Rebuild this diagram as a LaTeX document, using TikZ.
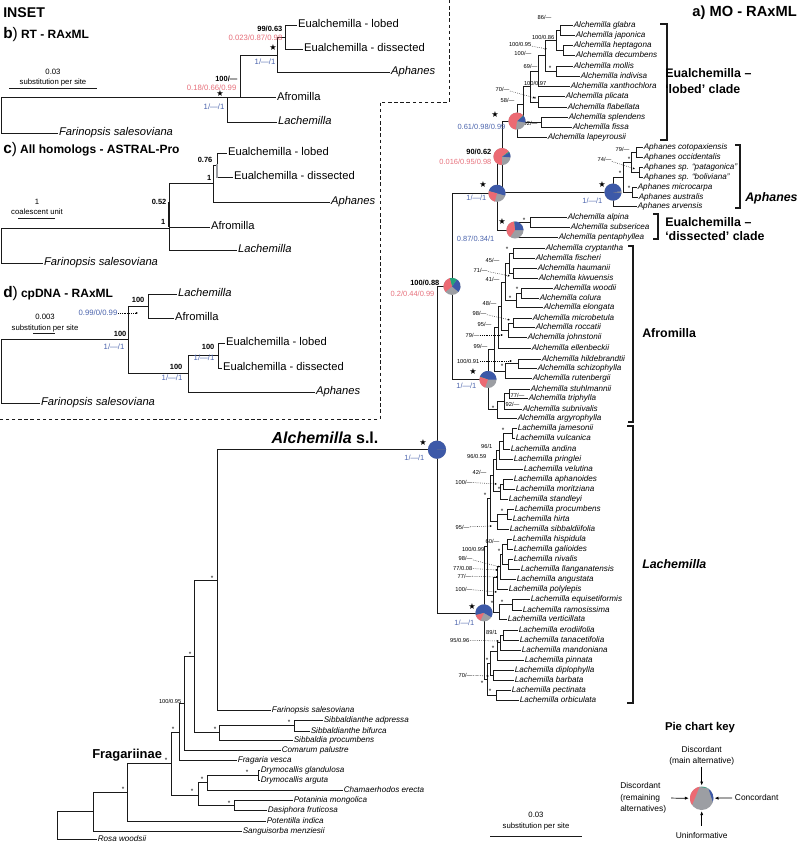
\documentclass[tikz,border=0pt]{standalone}
\usepackage{fontspec}
\setmainfont{Liberation Sans}
\newfontfamily\symfont{DejaVu Sans}
\usetikzlibrary{arrows.meta}
\definecolor{ink}{HTML}{1A1A1A}
\definecolor{cblue}{HTML}{3D59A8}
\definecolor{cred}{HTML}{EC6A73}
\definecolor{cgrey}{HTML}{9C9EA3}
\definecolor{cgreen}{HTML}{23A37B}
\definecolor{tred}{HTML}{E6707B}
\definecolor{tblue}{HTML}{4A63AC}
\newcommand{\fsz}[1]{\fontsize{#1}{#1}\selectfont}
\newcommand{\piechart}[6]{%
  \fill[cgrey] (#1) circle[radius=#2];
  \fill[cblue] (#1) -- +(#3:#2) arc[start angle=#3,end angle=#4,radius=#2] -- cycle;
  \fill[cgreen] (#1) -- +(#4:#2) arc[start angle=#4,end angle=#5,radius=#2] -- cycle;
  \fill[cred] (#1) -- +(#5:#2) arc[start angle=#5,end angle=#6,radius=#2] -- cycle;}
\begin{document}
\begin{tikzpicture}[x=0.75pt,y=-0.75pt,>=Latex,
 br/.style={draw=ink,line width=0.55pt},
 ibr/.style={draw=ink,line width=0.65pt},
 tip/.style={anchor=west,inner sep=0.4pt,font=\fsz{6.1}\itshape,text height=4.4pt,text depth=1.3pt},
 itip/.style={anchor=west,inner sep=0.6pt,font=\fsz{8.4},text height=6pt,text depth=1.7pt},
 sup/.style={anchor=east,inner sep=0.3pt,font=\fsz{4.3}},
 ast/.style={inner sep=0pt,font=\fsz{4.8}},
 pl/.style={anchor=east,inner sep=0.3pt,font=\fsz{5.6}},
 isup/.style={anchor=east,inner sep=0.3pt,font=\fsz{5.8}},
 pstar/.style={inner sep=0pt,font=\fsz{6.2}\symfont},
 dotarr/.style={->,densely dotted,line width=0.4pt,>={Latex[length=1.6pt,width=1.6pt]}},
 clade/.style={anchor=west,inner sep=0pt,font=\fsz{9.3}\bfseries},
 brk/.style={draw=ink,line width=0.9pt},
 paneltitle/.style={anchor=west,inner sep=0pt,font=\fsz{9}\bfseries},
 sc/.style={inner sep=0.3pt,font=\fsz{5.8}},
 keytxt/.style={inner sep=0.5pt,font=\fontsize{6.3}{8.6}\selectfont,align=center},
 karr/.style={->,line width=0.55pt,>={Latex[length=3pt,width=2.4pt]}}]
\useasboundingbox (0,0) rectangle (798,844);

\draw[ink,line width=0.5pt,dash pattern=on 2.6pt off 2pt] (449,0) -- (449,102) -- (380,102) -- (380,419) -- (0,419);

\node[paneltitle,font=\fsz{10.6}\bfseries] (inset) at (3,13) {INSET};
\node[paneltitle] (hb) at (3,35) {{\fsz{11.5}b}{\fsz{11.5}\mdseries)} RT - RAxML};
\node[paneltitle] (hc) at (3,150) {{\fsz{11.5}c}{\fsz{11.5}\mdseries)} All homologs - ASTRAL-Pro};
\node[paneltitle] (hd) at (3,294) {{\fsz{11.5}d}{\fsz{11.5}\mdseries)} cpDNA - RAxML};
\node[anchor=east,inner sep=0pt,font=\fsz{11}\bfseries] (ha) at (797,13) {a) MO - RAxML};

% insets b, c, d
\foreach \n/\x/\y/\t in {blob/297/25/{Eualchemilla - lobed},bdis/303/49/{Eualchemilla - dissected},bafr/276/97.5/{Afromilla},
  clob/227/153/{Eualchemilla - lobed},cdis/233/177/{Eualchemilla - dissected},cafr/210/227/{Afromilla},
  dlob/225/343/{Eualchemilla - lobed},ddis/222/368/{Eualchemilla - dissected},dafr/174/318/{Afromilla}}
  \node[itip] (\n) at (\x,\y) {\t};
\foreach \n/\x/\y/\t in {baph/390/72/{Aphanes},blac/277/122/{Lachemilla},bfar/58/133/{Farinopsis salesoviana},
  caph/330/202/{Aphanes},clac/237/250/{Lachemilla},cfar/43/263/{Farinopsis salesoviana},
  dlac/177/294/{Lachemilla},daph/315/392/{Aphanes},dfar/40/403/{Farinopsis salesoviana}}
  \node[itip,font=\fsz{8.4}\itshape] (\n) at (\x,\y) {\t};
\foreach \n/\x/\y in {b0/1/97.5,b1/227/97.5,b2/240/97.5,b3/277/55,b4/285/37,
  c0/1/228,c1/169/228,c2/213/183.5,c3/217/165,
  d0/1/339.5,d1/128/339.5,d2/148/306,d3/188/373.5,d4/218/355.5}
  \coordinate (\n) at (\x,\y);
\foreach \p/\c in {b0/bfar,b0/b1,b1/b2,b1/blac,b2/b3,b2/bafr,b3/b4,b3/baph,b4/blob,b4/bdis,
  c0/cfar,c0/c1,c1/c2,c1/cafr,c1/clac,c2/c3,c2/caph,c3/clob,c3/cdis,
  d0/dfar,d0/d1,d1/d2,d1/d3,d2/dlac,d2/dafr,d3/d4,d3/daph,d4/dlob,d4/ddis}
  \draw[ibr] (\p) |- (\c);
\draw[ink,line width=1.7pt] (169,202) -- (169,227);
\fill[cgrey] (215.6,164) rectangle (218.4,178);

\node[isup,font=\fsz{5.6}\bfseries] (bs1) at (283,29) {99/0.63};
\node[isup,text=tred] (bs2) at (283,38) {0.023/0.87/0.98};
\node[isup,text=tblue] (bs3) at (276,62) {1/—/1};
\node[pstar] (bst1) at (273,48) {★};
\node[isup,font=\fsz{5.6}\bfseries] (bs4) at (238,78.5) {100/—};
\node[isup,text=tred] (bs5) at (237,87.5) {0.18/0.66/0.99};
\node[pstar] (bst2) at (220,94) {★};
\node[isup,text=tblue] (bs6) at (225,107) {1/—/1};
\node[isup,font=\fsz{5.6}\bfseries] (cs1) at (213,160) {0.76};
\node[isup,font=\fsz{5.6}\bfseries] (cs2) at (212,178) {1};
\node[isup,font=\fsz{5.6}\bfseries] (cs3) at (167,202) {0.52};
\node[isup,font=\fsz{5.6}\bfseries] (cs4) at (166,222) {1};
\node[isup,font=\fsz{5.6}\bfseries] (ds1) at (145,300) {100};
\node[isup,text=tblue] (ds2) at (118,313) {0.99/0/0.99};
\coordinate (dq) at (138,313);
\draw[dotarr] (ds2) -- (dq);
\node[isup,font=\fsz{5.6}\bfseries] (ds3) at (127,334) {100};
\node[isup,text=tblue] (ds4) at (125,347) {1/—/1};
\node[isup,font=\fsz{5.6}\bfseries] (ds5) at (183,367) {100};
\node[isup,text=tblue] (ds6) at (183,378) {1/—/1};
\node[isup,font=\fsz{5.6}\bfseries] (ds7) at (215,347) {100};
\node[isup,text=tblue] (ds8) at (215,358) {1/—/1};

\node[sc] (bsa) at (53,72) {0.03};
\node[sc] (bsb) at (53,82) {substitution per site};
\draw[ibr] (9,88) -- (97,88);
\node[sc] (csa) at (37,202) {1};
\node[sc] (csb) at (37,212) {coalescent unit};
\draw[ibr] (18,218) -- (55,218);
\node[sc] (dsa) at (45,317) {0.003};
\node[sc] (dsb) at (45,328) {substitution per site};
\draw[ibr] (33,333) -- (55,333);

% main tree
\foreach \n/\x/\y/\t in {gla/573/25/{Alchemilla glabra},jap/575/35.3/{Alchemilla japonica},hep/573/45.5/{Alchemilla heptagona},
  dec/575/55.8/{Alchemilla decumbens},mol/573/66/{Alchemilla mollis},ind/580/76.3/{Alchemilla indivisa},
  xan/570/86.5/{Alchemilla xanthochlora},pli/565/96.8/{Alchemilla plicata},fla/567/107/{Alchemilla flabellata},
  spl/568/117.3/{Alchemilla splendens},fis/572/127.5/{Alchemilla fissa},lap/547/137.8/{Alchemilla lapeyrousii},
  cot/643/147.7/{Aphanes cotopaxiensis},occ/643/157.7/{Aphanes occidentalis},pat/643/167.7/{Aphanes sp. “patagonica”},
  bol/643/177.3/{Aphanes sp. “boliviana”},mic/637/187.3/{Aphanes microcarpa},aus/638/197.3/{Aphanes australis},
  arv/637/206.7/{Aphanes arvensis},alp/567/217.7/{Alchemilla alpina},sbs/570/227.7/{Alchemilla subsericea},
  pen/558/237.3/{Alchemilla pentaphyllea},cry/545/248.3/{Alchemilla cryptantha},fsc/535/258.3/{Alchemilla fischeri},
  hau/537/268.3/{Alchemilla haumanii},kiw/538/278.3/{Alchemilla kiwuensis},woo/553/288.3/{Alchemilla woodii},
  col/539/298.3/{Alchemilla colura},elo/543/307.7/{Alchemilla elongata},mcb/532/318.3/{Alchemilla microbetula},
  roc/535/327.7/{Alchemilla roccatii},joh/527/337.7/{Alchemilla johnstonii},ell/531/348.3/{Alchemilla ellenbeckii},
  hil/541/359/{Alchemilla hildebrandtii},sch/537/368.3/{Alchemilla schizophylla},rut/532/378.3/{Alchemilla rutenbergii},
  stu/530/389/{Alchemilla stuhlmannii},tri/528/398.3/{Alchemilla triphylla},sbn/522/409/{Alchemilla subnivalis},
  arg/517/418.3/{Alchemilla argyrophylla},jam/517/428.3/{Lachemilla jamesonii},vul/515/438.3/{Lachemilla vulcanica},
  lan/510/449/{Lachemilla andina},pri/513/459/{Lachemilla pringlei},vel/523/469.3/{Lachemilla velutina},
  aph/513/479/{Lachemilla aphanoides},mor/515/489.3/{Lachemilla moritziana},sta/508/499.3/{Lachemilla standleyi},
  pro/514/509/{Lachemilla procumbens},hir/512/519.3/{Lachemilla hirta},sib/509/529.3/{Lachemilla sibbaldiifolia},
  his/512/539/{Lachemilla hispidula},gal/513/549/{Lachemilla galioides},niv/513/559.3/{Lachemilla nivalis},
  lla/520/569/{Lachemilla llanganatensis},ang/516/579/{Lachemilla angustata},pol/508/589/{Lachemilla polylepis},
  equ/530/599.3/{Lachemilla equisetiformis},ram/522/610/{Lachemilla ramosissima},ver/507/619.3/{Lachemilla verticillata},
  ero/518/630/{Lachemilla erodiifolia},tan/519/640/{Lachemilla tanacetifolia},man/521/650/{Lachemilla mandoniana},
  pin/524/660/{Lachemilla pinnata},dip/514/670/{Lachemilla diplophylla},bar/514/680/{Lachemilla barbata},
  pec/511/690/{Lachemilla pectinata},orb/519/700/{Lachemilla orbiculata},
  far/271/710.7/{Farinopsis salesoviana},sad/323/720/{Sibbaldianthe adpressa},sbi/310/731/{Sibbaldianthe bifurca},
  spr/293/740/{Sibbaldia procumbens},com/281/750.7/{Comarum palustre},fra/237/760/{Fragaria vesca},
  dgl/260/770/{Drymocallis glandulosa},dar/260/780/{Drymocallis arguta},cha/343/790.7/{Chamaerhodos erecta},
  pmo/293/800.7/{Potaninia mongolica},dfr/267/810.7/{Dasiphora fruticosa},pind/266/821/{Potentilla indica},
  san/242/831/{Sanguisorba menziesii},ros/97/839/{Rosa woodsii}}
  \node[tip] (\n) at (\x,\y) {\t};
\foreach \n/\x/\y in {E1/560/30.2,E2/563/50.7,E3/556/40.4,E4/556/71.2,E5/545/55.8,E6/538/71.2,E7/538/101.9,
  E8/530/86.5,E9/541/122.4,E10/523/104.5,E11/517/121.1,
  Ap1/636/152.7,Ap2/639/172.5,Ap3/631/162.6,Ap4/632/192.3,Ap5/623/177.5,AP/613/192.1,
  Ds1/530/222.7,DR/515/230,G/502/156.6,F/497/193.3,Q/452/286.4,
  A1/513/253.3,A2/513/273.3,A3/509/263.3,A4/521/293.3,A5/516/300.5,A6/505/281.9,A7/513/323,A8/508/330.3,
  A9/501/306.1,A10/498/327.2,A11/518/363.7,A12/505/371,A13/494/349.1,S1/509/393.7,S2/504/401.3,S3/497/409.8,AR/488/379.5,
  L1/512/433.3,L2/503/441.2,L3/499/450.1,L4/496/459.7,L5/503/484.2,L6/500/491.7,L7/493/475.7,L8/507/514.2,
  L9/497/521.7,L10/490/498.7,H1/507/544,H2/508/564.2,H3/502/554.1,H4/500/566.5,H5/497/577.8,H6/512/604.7,
  H7/499/612,H8/493/594.9,U/487/546.8,W1/503/635,W2/500/642.5,W3/497/651.3,W4/493/675,W5/490/663.1,
  W6/496/695,W/487/679.1,R/484/612.9,S/437/449.7,
  N1/217/580.2,N2/194/656.8,SB/219/732.8,SD/294/725.7,N3/184/703.8,N4/179/732,N5/171/763.5,DP/198/795,
  D2/207/782.8,DG/258/775,PO/234/805.7,N6/127/792.5,N7/93/811.7,N8/57/825.4}
  \coordinate (\n) at (\x,\y);
\foreach \p/\c in {E1/gla,E1/jap,E2/hep,E2/dec,E3/E1,E3/E2,E4/mol,E4/ind,E5/E3,E5/E4,E6/E5,E6/xan,E7/pli,E7/fla,
  E8/E6,E8/E7,E9/spl,E9/fis,E10/E8,E10/E9,E11/E10,E11/lap,
  Ap1/cot,Ap1/occ,Ap2/pat,Ap2/bol,Ap3/Ap1,Ap3/Ap2,Ap4/mic,Ap4/aus,Ap5/Ap3,Ap5/Ap4,AP/Ap5,AP/arv,
  Ds1/alp,Ds1/sbs,DR/Ds1,DR/pen,G/E11,G/AP,F/G,F/DR,Q/F,Q/AR,
  A1/cry,A1/fsc,A2/hau,A2/kiw,A3/A1,A3/A2,A4/woo,A4/col,A5/A4,A5/elo,A6/A3,A6/A5,A7/mcb,A7/roc,A8/A7,A8/joh,
  A9/A6,A9/A8,A10/A9,A10/ell,A11/hil,A11/sch,A12/A11,A12/rut,A13/A10,A13/A12,S1/stu,S1/tri,S2/S1,S2/sbn,
  S3/S2,S3/arg,AR/A13,AR/S3,
  L1/jam,L1/vul,L2/L1,L2/lan,L3/L2,L3/pri,L4/L3,L4/vel,L5/aph,L5/mor,L6/L5,L6/sta,L7/L4,L7/L6,L8/pro,L8/hir,
  L9/L8,L9/sib,L10/L7,L10/L9,H1/his,H1/gal,H2/niv,H2/lla,H3/H1,H3/H2,H4/H3,H4/ang,H5/H4,H5/pol,H6/equ,H6/ram,
  H7/H6,H7/ver,H8/H5,H8/H7,U/L10,U/H8,W1/ero,W1/tan,W2/W1,W2/man,W3/W2,W3/pin,W4/dip,W4/bar,W5/W3,W5/W4,
  W6/pec,W6/orb,W/W5,W/W6,R/U,R/W,S/Q,S/R,
  N1/S,N1/far,N2/N1,N2/SB,SD/sad,SD/sbi,SB/SD,SB/spr,N3/N2,N3/com,N4/N3,N4/fra,DG/dgl,DG/dar,D2/DG,D2/cha,
  PO/pmo,PO/dfr,DP/D2,DP/PO,N5/N4,N5/DP,N6/N5,N6/pind,N7/N6,N7/san,N8/N7,N8/ros}
  \draw[br] (\p) |- (\c);

% support values
\foreach \i/\x/\y/\t in {1/552/17/{86/—},2/555/37/{100/0.86},3/532/53/{100/—},4/538/66/{69/—},5/547/83/{100/0.97},
  6/515/100/{58/—},7/538/123/{92/—},8/630/149/{79/—},9/500/260/{45/—},10/500/279/{41/—},11/497/303/{48/—},
  12/492/324/{95/—},13/488/346/{99/—},14/493/446/{96/1},15/487/456/{96/0.59},16/487/472/{42/—},17/500/541/{60/—},
  18/485/549/{100/0.99},19/498/632/{89/1},20/182/701/{100/0.95}}
  \node[sup] (sv\i) at (\x,\y) {\t};
\node[sup,anchor=west] (sv21) at (510,395) {77/—};
\node[sup,anchor=west] (sv22) at (505,404) {92/—};
\foreach \i/\x/\y/\t/\px/\py in {1/532/44/{100/0.95}/547/49,2/510/89/{70/—}/535/98,3/612/159/{74/—}/635/169,
  4/488/270/{71/—}/510/276,5/487/313/{98/—}/510/320,6/480/335/{79/—}/503/335,7/480/361/{100/0.91}/512/361,
  8/473/482/{100/—}/497/484,9/470/527/{95/—}/492/526,10/473/558/{98/—}/500/567,11/473/568/{77/0.08}/498/570,
  12/472/576/{77/—}/498/577,13/473/589/{100/—}/497/592,14/470/640/{95/0.96}/499/641,15/473/675/{70/—}/489/676}
  {\node[sup] (pv\i) at (\x,\y) {\t};
   \coordinate (pq\i) at (\px,\py);
   \draw[dotarr] (pv\i) -- (pq\i);}
\foreach \i/\x/\y in {1/550/68,2/535/99,3/629/159,4/620/173,5/629/188,6/524/220,7/507/249,8/517/289,9/510/298,
  10/502/366,11/493/408,12/503/430,13/499/489,14/485/495,15/502/511,16/499/551,17/502/602,18/492/603,
  19/493/648,20/487/660,21/482/683,22/490/691,23/212/578,24/190/654,25/215/729,26/289/722,27/173/729,
  28/166/760,29/192/791,30/202/779,31/247/772,32/229/803,33/123/789}
  \node[ast] (as\i) at (\x,\y) {*};

% pies
\piechart{E11}{6.4pt}{-10}{40}{45}{262}
\piechart{G}{6.4pt}{-5}{30}{38}{268}
\piechart{F}{6.4pt}{-15}{165}{165}{255}
\piechart{AP}{6.4pt}{5}{355}{355}{355}
\piechart{DR}{6.4pt}{0}{95}{97}{235}
\piechart{Q}{6.4pt}{-40}{55}{105}{220}
\piechart{AR}{6.4pt}{0}{160}{162}{250}
\piechart{S}{6.8pt}{0}{360}{360}{360}
\piechart{R}{6.4pt}{-30}{195}{195}{245}

\node[pl,text=tblue] (pl1) at (506,127) {0.61/0.98/0.99};
\node[pl,font=\fsz{5.6}\bfseries] (pl2) at (492,152) {90/0.62};
\node[pl,text=tred] (pl3) at (492,162) {0.016/0.95/0.98};
\node[pl,text=tblue] (pl4) at (487,198) {1/—/1};
\node[pl,text=tblue] (pl5) at (603,201) {1/—/1};
\node[pl,text=tblue] (pl6) at (495,239) {0.87/0.34/1};
\node[pl,font=\fsz{5.6}\bfseries] (pl7) at (440,283) {100/0.88};
\node[pl,text=tred] (pl8) at (435,294) {0.2/0.44/0.99};
\node[pl,text=tblue] (pl9) at (477,386) {1/—/1};
\node[pl,text=tblue] (pl10) at (425,458) {1/—/1};
\node[pl,text=tblue] (pl11) at (475,623) {1/—/1};
\foreach \i/\x/\y in {1/495/115,2/483/185,3/602/185,4/502/222,5/473/372,6/423/443,7/472/607}
  \node[pstar] (ps\i) at (\x,\y) {★};

% clades
\draw[brk] (660,24) -- (667,24) -- (667,140) -- (660,140);
\draw[brk] (735,145) -- (740,145) -- (740,208) -- (735,208);
\draw[brk] (653,214) -- (658,214) -- (658,239) -- (653,239);
\draw[brk] (628,246) -- (633,246) -- (633,422) -- (628,422);
\draw[brk] (627,426) -- (633,426) -- (633,703) -- (627,703);
\node[clade] (lobA) at (665,73) {Eualchemilla –};
\node[clade] (lobB) at (665,89) {‘lobed’ clade};
\node[clade,font=\fsz{9.3}\bfseries\itshape] (aphl) at (745,198) {Aphanes};
\node[clade] (disA) at (665,222) {Eualchemilla –};
\node[clade] (disB) at (665,236) {‘dissected’ clade};
\node[clade] (afrl) at (642,333) {Afromilla};
\node[clade,font=\fsz{9.3}\bfseries\itshape] (lacl) at (642,564) {Lachemilla};
\node[inner sep=0pt,font=\fsz{12}\bfseries] (asl) at (325,438) {\textit{Alchemilla} s.l.};
\node[clade,font=\fsz{9.7}\bfseries] (frag) at (92,755) {Fragariinae};

\node[sc] (msa) at (536,815) {0.03};
\node[sc] (msb) at (536,826) {substitution per site};
\draw[br] (490,836) -- (582,836);

% pie chart key
\node[inner sep=0pt,font=\fsz{8.5}\bfseries] (keyt) at (700,728) {Pie chart key};
\node[keytxt] (kdm) at (701.7,756) {Discordant\\(main alternative)};
\node[circle,minimum size=17.6pt,inner sep=0pt] (keypie) at (701.7,798.3) {};
\piechart{keypie}{8.8pt}{-20}{55}{100}{215}
\node[keytxt,anchor=west] (kcon) at (734,797.7) {Concordant};
\node[keytxt,align=left,anchor=east] (kdrm) at (667,797.9) {Discordant\\(remaining\\alternatives)};
\node[keytxt] (kuni) at (701.7,835) {Uninformative};
\draw[karr,shorten >=0.6pt] (kdm) -- (keypie);
\draw[karr,shorten <=1.5pt,shorten >=0.6pt] (kcon) -- (keypie);
\draw[karr,shorten <=3pt,shorten >=0.6pt] (kdrm) -- (keypie);
\draw[karr,shorten <=4pt,shorten >=0.6pt] (kuni) -- (keypie);
\end{tikzpicture}
\end{document}
